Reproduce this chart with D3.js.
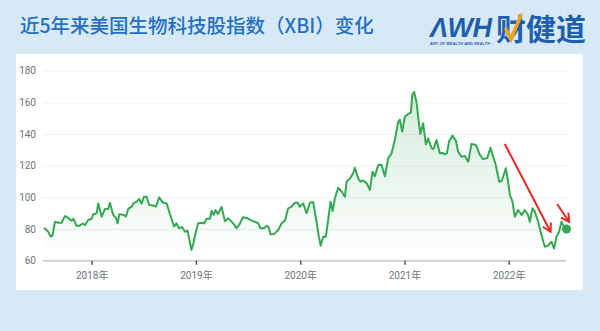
<!DOCTYPE html>
<html>
<head>
<meta charset="utf-8">
<script src="https://cdn.jsdelivr.net/npm/d3@7"></script>
<style>
  body { margin: 0; background: #d7e9f6; }
  svg { display: block; }
</style>
</head>
<body>
<script>
// decimal years (x) and XBI level (y)
var years = [
  2017.543, 2017.584, 2017.607, 2017.624, 2017.648, 2017.680, 2017.712, 2017.744, 2017.776, 2017.808,
  2017.824, 2017.856, 2017.881, 2017.914, 2017.936, 2017.967, 2018.000, 2018.015, 2018.048, 2018.063,
  2018.096, 2018.128, 2018.159, 2018.175, 2018.207, 2018.233, 2018.249, 2018.265, 2018.303, 2018.329,
  2018.351, 2018.384, 2018.399, 2018.431, 2018.456, 2018.479, 2018.501, 2018.527, 2018.552, 2018.591,
  2018.616, 2018.648, 2018.681, 2018.719, 2018.763, 2018.791, 2018.813, 2018.837, 2018.866, 2018.895,
  2018.920, 2018.957, 2018.976, 2018.995, 2019.022, 2019.055, 2019.080, 2019.103, 2019.134, 2019.151,
  2019.170, 2019.187, 2019.211, 2019.246, 2019.278, 2019.310, 2019.358, 2019.390, 2019.415, 2019.451,
  2019.486, 2019.534, 2019.566, 2019.597, 2019.620, 2019.652, 2019.678, 2019.695, 2019.716, 2019.748,
  2019.789, 2019.822, 2019.853, 2019.885, 2019.918, 2019.949, 2019.975, 2019.997, 2020.029, 2020.061,
  2020.093, 2020.125, 2020.141, 2020.157, 2020.179, 2020.196, 2020.221, 2020.246, 2020.268, 2020.291,
  2020.311, 2020.333, 2020.364, 2020.397, 2020.429, 2020.445, 2020.477, 2020.508, 2020.524, 2020.556,
  2020.579, 2020.604, 2020.637, 2020.668, 2020.694, 2020.716, 2020.748, 2020.780, 2020.812, 2020.844,
  2020.876, 2020.908, 2020.940, 2020.956, 2020.978, 2021.004, 2021.035, 2021.061, 2021.076, 2021.093,
  2021.116, 2021.133, 2021.152, 2021.179, 2021.205, 2021.227, 2021.260, 2021.277, 2021.308, 2021.339,
  2021.371, 2021.387, 2021.407, 2021.429, 2021.461, 2021.493, 2021.515, 2021.547, 2021.579, 2021.611,
  2021.643, 2021.685, 2021.723, 2021.755, 2021.793, 2021.826, 2021.850, 2021.876, 2021.908, 2021.934,
  2021.972, 2021.994, 2022.011, 2022.036, 2022.058, 2022.090, 2022.123, 2022.154, 2022.186, 2022.202,
  2022.228, 2022.250, 2022.282, 2022.314, 2022.346, 2022.378, 2022.410, 2022.435, 2022.458, 2022.483,
  2022.506, 2022.522, 2022.554
];
var values = [
  80.8, 78.3, 75.2, 75.8, 84.6, 84.0, 84.0, 88.2, 87.0, 85.3,
  86.5, 82.0, 82.0, 83.5, 82.5, 85.7, 86.5, 89.3, 90.0, 96.2,
  87.8, 92.7, 92.7, 96.6, 88.9, 87.0, 83.6, 89.4, 89.0, 88.0,
  92.7, 94.1, 96.2, 97.3, 99.0, 96.0, 100.4, 100.4, 95.2, 94.8,
  94.2, 100.0, 96.8, 96.2, 87.0, 81.6, 83.6, 80.5, 81.3, 78.3,
  79.0, 66.8, 71.0, 77.0, 83.6, 84.0, 83.6, 86.5, 86.5, 91.5,
  89.0, 92.0, 89.5, 94.0, 85.0, 86.8, 83.6, 80.5, 82.6, 87.4,
  87.0, 85.3, 84.6, 83.6, 80.5, 80.5, 82.0, 81.5, 76.7, 76.8,
  79.4, 83.6, 85.3, 93.1, 94.1, 96.6, 96.8, 94.1, 96.2, 90.0,
  96.6, 97.0, 90.6, 84.6, 75.2, 69.5, 75.2, 75.2, 85.7, 97.3,
  91.4, 99.4, 106.1, 103.7, 100.4, 109.9, 112.0, 115.2, 118.7, 112.0,
  109.9, 110.7, 109.0, 104.7, 116.2, 113.3, 120.4, 120.6, 113.3, 124.7,
  127.8, 136.2, 147.8, 149.0, 141.5, 151.0, 152.7, 153.5, 165.0, 166.7,
  160.0, 150.0, 140.0, 146.8, 133.5, 137.3, 131.0, 130.5, 136.2, 127.8,
  128.0, 127.2, 128.0, 135.6, 139.0, 135.8, 128.8, 125.7, 126.2, 122.5,
  133.7, 133.1, 126.8, 124.2, 124.8, 131.4, 125.7, 120.4, 109.9, 110.5,
  118.4, 109.9, 101.5, 97.3, 87.8, 92.0, 88.9, 92.0, 88.9, 84.6,
  93.1, 91.0, 84.6, 76.2, 68.8, 69.5, 72.0, 67.8, 75.2, 78.3,
  84.6, 82.6, 80.0
];
var yTicks = [60, 80, 100, 120, 140, 160, 180];
var xTicks = [2018, 2019, 2020, 2021, 2022];
// red annotation arrows: [year, value] start and end
var arrowStarts = [[2021.962, 133.7], [2022.464, 95.8]];
var arrowEnds = [[2022.401, 78.3], [2022.579, 84.6]];

var title = "近5年来美国生物科技股指数（XBI）变化";
var green = "#34a853";

var data = years.map(function(d, i) { return {t: d, v: values[i]}; });

var svg = d3.select("body").append("svg")
    .attr("width", 600)
    .attr("height", 331);

svg.append("rect")
    .attr("width", 600).attr("height", 331)
    .attr("fill", "#d7e9f6");

svg.append("rect")
    .attr("x", 16).attr("y", 54)
    .attr("width", 567).attr("height", 236)
    .attr("fill", "#fff");

// header
svg.append("text")
    .attr("x", 20).attr("y", 33)
    .attr("font-family", "'Noto Sans CJK SC', sans-serif")
    .attr("font-size", 19.5)
    .attr("font-weight", 500)
    .attr("fill", "#2470c2")
    .text(title);

var logo = svg.append("g").attr("fill", "#1c5fae");
logo.append("text")
    .attr("x", 430).attr("y", 37)
    .attr("font-family", "'Liberation Sans', sans-serif")
    .attr("font-size", 27)
    .attr("font-weight", "bold")
    .attr("font-style", "italic")
    .attr("textLength", 62)
    .text("ΛWH");
logo.append("text")
    .attr("x", 586).attr("y", 40)
    .attr("text-anchor", "end")
    .attr("font-family", "'Noto Sans CJK SC', sans-serif")
    .attr("font-size", 30)
    .attr("font-weight", "bold")
    .text("财健道");
logo.append("text")
    .attr("x", 430).attr("y", 45)
    .attr("font-family", "'Liberation Sans', sans-serif")
    .attr("font-size", 3.8)
    .attr("font-weight", "bold")
    .attr("textLength", 60)
    .text("ART OF WEALTH AND HEALTH");
svg.append("path")
    .attr("d", "M506,29 L511,39 L521,15")
    .attr("fill", "none")
    .attr("stroke", "#f4a21b")
    .attr("stroke-width", 3.5)
    .attr("stroke-linecap", "round");

// chart
var x = d3.scaleLinear().domain([years[0], years[years.length - 1]]).range([44, 566.5]);
var y = d3.scaleLinear().domain([60, 180]).range([260.7, 70.7]);

var defs = svg.append("defs");
var grad = defs.append("linearGradient")
    .attr("id", "fade")
    .attr("gradientUnits", "userSpaceOnUse")
    .attr("x1", 0).attr("x2", 0)
    .attr("y1", y(170)).attr("y2", y(60));
grad.append("stop").attr("offset", "0%").attr("stop-color", green).attr("stop-opacity", 0.22);
grad.append("stop").attr("offset", "100%").attr("stop-color", green).attr("stop-opacity", 0);

defs.append("marker")
    .attr("id", "head")
    .attr("markerUnits", "userSpaceOnUse")
    .attr("viewBox", "-10 -6 12 12")
    .attr("markerWidth", 12).attr("markerHeight", 12)
    .attr("refX", 0).attr("refY", 0)
    .attr("orient", "auto")
    .append("path")
    .attr("d", "M-8,-4.5 L0,0 L-8,4.5")
    .attr("fill", "none")
    .attr("stroke", "#e8261f")
    .attr("stroke-width", 2);

var yAxis = svg.append("g")
    .attr("transform", "translate(43,0)")
    .call(d3.axisLeft(y).tickValues(yTicks).tickSize(-523).tickPadding(7));
yAxis.select(".domain").remove();
yAxis.selectAll("line").attr("stroke", "#f0f0f0");
yAxis.selectAll("text")
    .attr("fill", "#70757a")
    .attr("font-family", "Roboto, sans-serif")
    .attr("font-size", 10);

svg.append("line")
    .attr("x1", 43).attr("x2", 566)
    .attr("y1", y(60)).attr("y2", y(60))
    .attr("stroke", "#c9c9c9")
    .attr("stroke-width", 1.5);

var xAxis = svg.append("g")
    .attr("transform", "translate(0," + y(60) + ")")
    .call(d3.axisBottom(x).tickValues(xTicks).tickSize(4).tickPadding(7.5)
        .tickFormat(function(d) { return d + "年"; }));
xAxis.select(".domain").remove();
xAxis.selectAll("line").attr("stroke", "#555").attr("stroke-width", 1.5);
xAxis.selectAll("text")
    .attr("fill", "#70757a")
    .attr("font-family", "Roboto, 'Noto Sans CJK SC', sans-serif")
    .attr("font-size", 10);

var area = d3.area()
    .x(function(d) { return x(d.t); })
    .y0(y(60))
    .y1(function(d) { return y(d.v); });

var line = d3.line()
    .x(function(d) { return x(d.t); })
    .y(function(d) { return y(d.v); });

svg.append("path")
    .attr("d", area(data))
    .attr("fill", "url(#fade)");

svg.append("path")
    .attr("d", line(data))
    .attr("fill", "none")
    .attr("stroke", green)
    .attr("stroke-width", 2)
    .attr("stroke-linejoin", "round");

var last = data[data.length - 1];
svg.append("circle")
    .attr("cx", x(last.t)).attr("cy", y(last.v))
    .attr("r", 4.5)
    .attr("fill", green);

svg.selectAll(".arrow")
    .data(arrowStarts)
    .enter().append("line")
    .attr("class", "arrow")
    .attr("x1", function(d) { return x(d[0]); })
    .attr("y1", function(d) { return y(d[1]); })
    .attr("x2", function(d, i) { return x(arrowEnds[i][0]); })
    .attr("y2", function(d, i) { return y(arrowEnds[i][1]); })
    .attr("stroke", "#e8261f")
    .attr("stroke-width", 2)
    .attr("marker-end", "url(#head)");
</script>
</body>
</html>
